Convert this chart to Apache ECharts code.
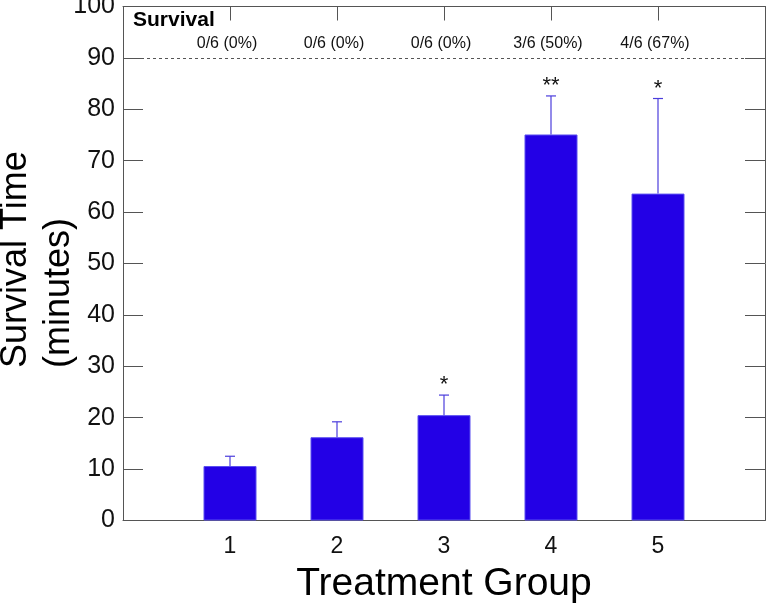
<!DOCTYPE html>
<html>
<head>
<meta charset="utf-8">
<script src="https://cdn.jsdelivr.net/npm/echarts@6/dist/echarts.min.js"></script>
<style>
  html, body { margin: 0; padding: 0; background: #fff; }
  #chart { width: 767px; height: 605px; }
</style>
</head>
<body>
<div id="chart"></div>
<script>
// ---- data ----
const categories = [1, 2, 3, 4, 5];
const means = [10.6, 16.2, 20.5, 75.1, 63.6];
const errUpper = [12.5, 19.2, 24.4, 82.6, 82.1];
const stars = ['', '', '*', '**', '*'];
const survivalText = ['0/6 (0%)', '0/6 (0%)', '0/6 (0%)', '3/6 (50%)', '4/6 (67%)'];
const yTickValues = [0, 10, 20, 30, 40, 50, 60, 70, 80, 90, 100];
const survivalCutoff = 90;

// ---- styles ----
const FONT = '"Liberation Sans", Arial, sans-serif';
const BAR_COLOR = '#2300e6';
const ERR_COLOR = '#4b3ddc';
const AXIS_COLOR = '#555555';

const chart = echarts.init(document.getElementById('chart'), null, { renderer: 'canvas' });

const option = {
  backgroundColor: '#ffffff',
  animation: false,
  grid: {
    left: 123, right: 2, top: 6.5, bottom: 84.5,
    containLabel: false,
    outerBoundsMode: 'none'
  },
  xAxis: [
    {
      type: 'value', min: 0, max: 6, interval: 1, position: 'bottom',
      axisLine: { show: true, onZero: false, lineStyle: { color: AXIS_COLOR, width: 1 } },
      axisTick: { show: false },
      splitLine: { show: false },
      axisLabel: {
        fontFamily: FONT, fontSize: 23, color: '#111', margin: 15,
        formatter: v => (categories.indexOf(v) >= 0 ? String(v) : '')
      },
      name: 'Treatment Group', nameLocation: 'middle', nameGap: 44,
      nameTextStyle: { fontFamily: FONT, fontSize: 39, color: '#000' }
    },
    {
      type: 'value', min: 0, max: 6, interval: 1, position: 'top',
      axisLine: { show: true, onZero: false, lineStyle: { color: AXIS_COLOR, width: 1 } },
      axisTick: { show: true, inside: true, length: 14, lineStyle: { color: AXIS_COLOR } },
      splitLine: { show: false },
      axisLabel: { show: false }
    }
  ],
  yAxis: [
    {
      type: 'value', min: yTickValues[0], max: yTickValues[yTickValues.length - 1], interval: 10,
      position: 'left',
      axisLine: { show: true, onZero: false, lineStyle: { color: AXIS_COLOR, width: 1 } },
      axisTick: { show: true, inside: true, length: 20, lineStyle: { color: AXIS_COLOR } },
      splitLine: { show: false },
      axisLabel: { fontFamily: FONT, fontSize: 25, color: '#111', margin: 8 }
    },
    {
      type: 'value', min: yTickValues[0], max: yTickValues[yTickValues.length - 1], interval: 10,
      position: 'right',
      axisLine: { show: true, onZero: false, lineStyle: { color: AXIS_COLOR, width: 1 } },
      axisTick: { show: true, inside: true, length: 20, lineStyle: { color: AXIS_COLOR } },
      splitLine: { show: false },
      axisLabel: { show: false }
    }
  ],
  graphic: [
    {
      type: 'text', x: -5, y: 368, rotation: Math.PI / 2,
      style: {
        text: 'Survival Time\n(minutes)',
        font: '36px ' + FONT, fill: '#000',
        textAlign: 'left', textVerticalAlign: 'top', lineHeight: 43
      }
    },
    {
      type: 'text', x: 133, y: 10,
      style: {
        text: 'Survival', font: 'bold 21px ' + FONT, fill: '#000',
        textAlign: 'left', textVerticalAlign: 'top'
      }
    }
  ],
  series: [
    {
      type: 'bar', xAxisIndex: 0, yAxisIndex: 0,
      barWidth: 53,
      data: categories.map((c, i) => [c, means[i]]),
      itemStyle: { color: BAR_COLOR, borderColor: '#5b4ff0', borderWidth: 1 },
      markLine: {
        silent: true, symbol: ['none', 'none'],
        label: { show: false },
        lineStyle: { color: AXIS_COLOR, type: [3, 3], width: 1 },
        data: [{ yAxis: survivalCutoff }]
      }
    },
    {
      type: 'custom', xAxisIndex: 0, yAxisIndex: 0,
      data: categories.map((c, i) => [c, means[i], errUpper[i]]),
      renderItem: function (params, api) {
        const lo = api.coord([api.value(0), api.value(1)]);
        const hi = api.coord([api.value(0), api.value(2)]);
        const cap = 5;
        return {
          type: 'group',
          children: [
            { type: 'line', shape: { x1: lo[0], y1: lo[1], x2: hi[0], y2: hi[1] },
              style: { stroke: ERR_COLOR, lineWidth: 1.2 } },
            { type: 'line', shape: { x1: hi[0] - cap, y1: hi[1], x2: hi[0] + cap, y2: hi[1] },
              style: { stroke: ERR_COLOR, lineWidth: 1.2 } }
          ]
        };
      },
      z: 3
    },
    {
      type: 'custom', xAxisIndex: 0, yAxisIndex: 0,
      data: categories.map((c, i) => [c, errUpper[i], i]),
      renderItem: function (params, api) {
        const idx = api.value(2);
        const p = api.coord([api.value(0), api.value(1)]);
        return {
          type: 'text',
          style: {
            text: stars[idx], x: p[0], y: p[1] + 1,
            font: '22px ' + FONT, fill: '#111',
            textAlign: 'center', textVerticalAlign: 'bottom'
          }
        };
      },
      z: 4
    },
    {
      type: 'custom', xAxisIndex: 0, yAxisIndex: 0,
      data: categories.map((c, i) => [c, i]),
      renderItem: function (params, api) {
        const idx = api.value(1);
        const p = api.coord([api.value(0), 100]);
        return {
          type: 'text',
          style: {
            text: survivalText[idx], x: p[0] - 3, y: p[1] + 37.5,
            font: '16px ' + FONT, fill: '#111',
            textAlign: 'center', textVerticalAlign: 'middle'
          }
        };
      },
      z: 4
    }
  ]
};

chart.setOption(option);
</script>
</body>
</html>
